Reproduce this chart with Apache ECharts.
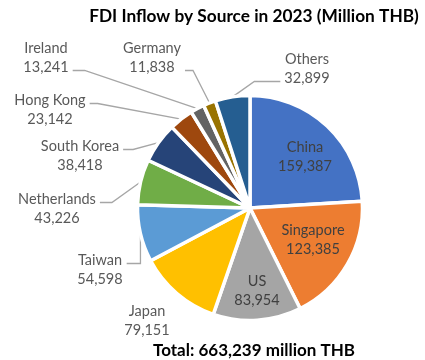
<!DOCTYPE html>
<html>
<head>
<meta charset="utf-8">
<script src="https://cdn.jsdelivr.net/npm/echarts@6/dist/echarts.min.js"></script>
<style>
  html, body { margin: 0; padding: 0; background: #ffffff; }
  #chart { width: 425px; height: 360px; }
</style>
</head>
<body>
<div id="chart"></div>
<script>
// FDI inflow by source country, 2023 (million THB)
const sources = ['China', 'Singapore', 'US', 'Japan', 'Taiwan', 'Netherlands',
                 'South Korea', 'Hong Kong', 'Ireland', 'Germany', 'Others'];
const inflows = [159387, 123385, 83954, 79151, 54598, 43226, 38418, 23142, 13241, 11838, 32899];
const titleText = 'FDI Inflow by Source in 2023 (Million THB)';
const totalText = 'Total: 663,239 million THB';

const sliceColors = ['#4472C4', '#ED7D31', '#A5A5A5', '#FFC000', '#5B9BD5', '#70AD47',
                     '#264478', '#9E480E', '#636363', '#997300', '#255E91'];

const FONT = 'Lato';
const ROW = 19; // line height of the two-line labels

// Where each label block sits (centre), and how its leader line attaches:
// side = which edge of the block the line leaves from, row = which text row,
// run = length of the short horizontal segment ('vertical' = straight under the anchor).
const labelSpots = {
  'China':       { x: 305, y: 157, inside: true },
  'Singapore':   { x: 313, y: 240, inside: true },
  'US':          { x: 257, y: 291, inside: true },
  'Japan':       { x: 147, y: 321 },
  'Taiwan':      { x: 100, y: 270, side: 'right', row: 'name', run: 'vertical' },
  'Netherlands': { x: 57,  y: 209, side: 'right', row: 'name', run: 12 },
  'South Korea': { x: 80,  y: 156, side: 'right', row: 'name', run: 10 },
  'Hong Kong':   { x: 50,  y: 110, side: 'right', row: 'name', run: 8 },
  'Ireland':     { x: 46,  y: 58,  side: 'right', row: 'value', run: 12 },
  'Germany':     { x: 152, y: 58,  side: 'right', row: 'value', run: 8 },
  'Others':      { x: 307, y: 69,  side: 'left',  row: 'value', run: 26 }
};

const fmt = v => v.toLocaleString('en-US');

const pieData = sources.map((name, i) => {
  const item = { name: name, value: inflows[i], itemStyle: { color: sliceColors[i] } };
  const spot = labelSpots[name];
  if (spot.inside) {
    item.label = { position: 'inside', color: '#404040' };
    item.labelLine = { show: false };
  } else if (!spot.side) {
    item.labelLine = { show: false };
  }
  return item;
});

const chart = echarts.init(document.getElementById('chart'), null, { renderer: 'canvas' });

chart.setOption({
  animation: false,
  backgroundColor: '#ffffff',
  title: [
    {
      text: titleText,
      left: 254, top: 8, textAlign: 'center', padding: 0,
      textStyle: { fontFamily: FONT, fontWeight: 'bold', fontSize: 17.3, color: '#000000' }
    },
    {
      text: totalText,
      left: 254, top: 342, textAlign: 'center', padding: 0,
      textStyle: { fontFamily: FONT, fontWeight: 'bold', fontSize: 17, color: '#000000' }
    }
  ],
  series: [{
    type: 'pie',
    center: [250, 208],
    radius: 112.5,
    startAngle: 90,
    clockwise: true,
    avoidLabelOverlap: false,
    itemStyle: { borderColor: '#ffffff', borderWidth: 3.5 },
    label: {
      show: true,
      position: 'outside',
      formatter: p => p.name + '\n' + fmt(p.value),
      fontFamily: FONT,
      fontSize: 14.5,
      lineHeight: ROW,
      color: '#595959',
      align: 'center'
    },
    labelLine: {
      show: true,
      length: 10,
      length2: 10,
      lineStyle: { color: '#A6A6A6', width: 1.3 }
    },
    emphasis: { disabled: true },
    labelLayout: function (params) {
      const spot = labelSpots[sources[params.dataIndex]];
      const out = { x: spot.x, y: spot.y, align: 'center', verticalAlign: 'middle' };
      if (spot.side && params.labelLinePoints) {
        const w = params.labelRect.width;
        const anchor = params.labelLinePoints[0];
        const rowY = spot.y + (spot.row === 'name' ? -ROW / 2 : ROW / 2) + 3;
        const endX = spot.side === 'right' ? spot.x + w / 2 + 4 : spot.x - w / 2 - 4;
        let elbowX;
        if (spot.run === 'vertical') {
          elbowX = anchor[0];
        } else {
          elbowX = endX + (spot.side === 'right' ? spot.run : -spot.run);
        }
        out.labelLinePoints = [anchor, [elbowX, rowY], [endX, rowY]];
      }
      return out;
    },
    data: pieData
  }]
});
</script>
</body>
</html>
